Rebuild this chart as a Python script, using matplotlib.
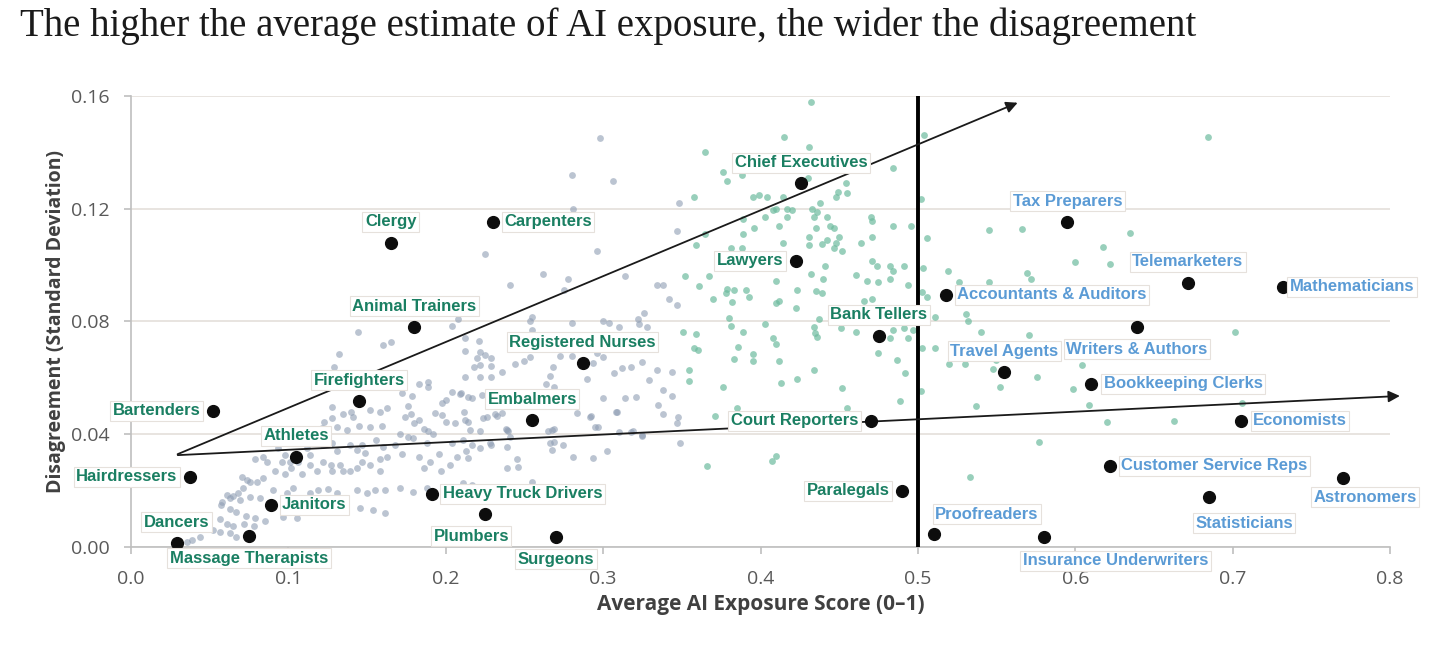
import matplotlib
matplotlib.use("Agg")
import matplotlib.pyplot as plt
from matplotlib.ticker import FormatStrFormatter

# background occupations, low exposure (grey-blue)
gray_pts = [
    (0.298, 0.145), (0.28, 0.132), (0.306, 0.130), (0.281, 0.120), (0.348, 0.122), (0.347, 0.112),
    (0.225, 0.104), (0.296, 0.105), (0.262, 0.097), (0.278, 0.095), (0.241, 0.093), (0.314, 0.096),
    (0.334, 0.093), (0.338, 0.093), (0.275, 0.091), (0.342, 0.088), (0.347, 0.086),
    (0.208, 0.081), (0.204, 0.0785), (0.165, 0.0728), (0.212, 0.074), (0.221, 0.073), (0.255, 0.0816),
    (0.2535, 0.080), (0.28, 0.0795), (0.30, 0.080), (0.304, 0.0795), (0.31, 0.078), (0.322, 0.081),
    (0.326, 0.083), (0.323, 0.079), (0.328, 0.078), (0.255, 0.077),
    (0.212, 0.0695), (0.22, 0.067), (0.222, 0.069), (0.225, 0.068), (0.229, 0.067), (0.218, 0.064),
    (0.222, 0.0646), (0.229, 0.0642), (0.212, 0.0603), (0.222, 0.0603), (0.229, 0.0603), (0.236, 0.062),
    (0.244, 0.065), (0.25, 0.066), (0.2535, 0.0674), (0.2725, 0.0678), (0.28, 0.0678), (0.268, 0.0639),
    (0.266, 0.0607), (0.264, 0.0578), (0.269, 0.0568), (0.296, 0.0688), (0.30, 0.0674), (0.2935, 0.0653),
    (0.290, 0.0596), (0.307, 0.0617), (0.312, 0.0635), (0.318, 0.0639), (0.325, 0.0656), (0.334, 0.0628),
    (0.329, 0.0593), (0.344, 0.062),
    (0.183, 0.0578), (0.189, 0.0585), (0.189, 0.0568), (0.1785, 0.0536), (0.172, 0.0546), (0.204, 0.055),
    (0.209, 0.0543), (0.200, 0.0522), (0.1976, 0.051), (0.214, 0.0532), (0.223, 0.054), (0.229, 0.051),
    (0.234, 0.0504),
    (0.176, 0.050), (0.174, 0.046), (0.178, 0.047), (0.183, 0.045), (0.180, 0.044), (0.186, 0.042),
    (0.189, 0.041), (0.192, 0.040), (0.193, 0.0476), (0.1976, 0.0468), (0.200, 0.0444), (0.206, 0.044),
    (0.212, 0.045), (0.2154, 0.0415), (0.2236, 0.0458), (0.2325, 0.0465), (0.239, 0.0415), (0.264, 0.051),
    (0.268, 0.051), (0.277, 0.053), (0.282, 0.052), (0.2834, 0.0476), (0.292, 0.0465), (0.300, 0.053),
    (0.309, 0.048), (0.314, 0.0529), (0.321, 0.0532), (0.2675, 0.0415), (0.2687, 0.0373), (0.2967, 0.0426),
    (0.310, 0.0408), (0.318, 0.0408), (0.325, 0.0394), (0.171, 0.040), (0.179, 0.0387), (0.188, 0.037),
    (0.204, 0.037), (0.211, 0.038), (0.217, 0.036), (0.228, 0.037),
    (0.144, 0.0763), (0.132, 0.0685), (0.129, 0.064), (0.160, 0.0717), (0.1277, 0.0497), (0.1226, 0.0444),
    (0.1213, 0.0422), (0.1277, 0.0458), (0.135, 0.047), (0.140, 0.048), (0.141, 0.046), (0.145, 0.043),
    (0.152, 0.0486), (0.158, 0.048), (0.1626, 0.0493), (0.131, 0.0426), (0.137, 0.0415), (0.152, 0.0426),
    (0.1595, 0.043), (0.122, 0.036), (0.128, 0.037), (0.131, 0.034), (0.139, 0.036), (0.147, 0.036),
    (0.156, 0.038), (0.1086, 0.037), (0.1118, 0.035), (0.1137, 0.0327), (0.0934, 0.035), (0.098, 0.0327),
    (0.0788, 0.031), (0.0839, 0.032), (0.0864, 0.030), (0.096, 0.030), (0.101, 0.030), (0.106, 0.030),
    (0.0915, 0.027), (0.098, 0.026), (0.102, 0.028), (0.1086, 0.026), (0.114, 0.029), (0.118, 0.027),
    (0.122, 0.030), (0.127, 0.029), (0.128, 0.027), (0.133, 0.029), (0.135, 0.027), (0.139, 0.027),
    (0.1436, 0.028), (0.147, 0.030), (0.152, 0.029), (0.158, 0.031), (0.158, 0.027), (0.1626, 0.032),
    (0.1436, 0.0344), (0.1487, 0.0333), (0.160, 0.0355), (0.0705, 0.0248), (0.0756, 0.023), (0.080, 0.023),
    (0.0839, 0.0245), (0.061, 0.0185), (0.068, 0.019), (0.0756, 0.0177), (0.082, 0.0174), (0.090, 0.0202),
    (0.099, 0.019), (0.103, 0.021), (0.114, 0.019), (0.119, 0.020), (0.125, 0.0205), (0.131, 0.019),
    (0.1436, 0.020), (0.150, 0.019), (0.155, 0.020), (0.1614, 0.020), (0.057, 0.015), (0.063, 0.0135),
    (0.067, 0.0125), (0.073, 0.011), (0.079, 0.0103), (0.1455, 0.0138), (0.1537, 0.013), (0.1614, 0.012),
    (0.058, 0.016), (0.063, 0.0174), (0.069, 0.0167), (0.0565, 0.010), (0.061, 0.008), (0.065, 0.0075),
    (0.072, 0.008), (0.078, 0.0075), (0.085, 0.009), (0.052, 0.006), (0.0565, 0.0053), (0.063, 0.005),
    (0.067, 0.0035), (0.0438, 0.0035), (0.0388, 0.0025), (0.0356, 0.0018), (0.0737, 0.0238), (0.071, 0.021),
    (0.065, 0.018), (0.0966, 0.0106), (0.1055, 0.0103), (0.171, 0.021), (0.179, 0.0195), (0.188, 0.021),
    (0.210, 0.0546), (0.217, 0.0529), (0.274, 0.054), (0.280, 0.0546), (0.335, 0.0504), (0.338, 0.0472),
    (0.338, 0.0557), (0.344, 0.0536), (0.2116, 0.048), (0.226, 0.046), (0.231, 0.047), (0.236, 0.0475),
    (0.214, 0.0444), (0.222, 0.0412), (0.238, 0.042), (0.2395, 0.041), (0.265, 0.0412), (0.269, 0.042),
    (0.2916, 0.046), (0.295, 0.0426), (0.308, 0.048), (0.319, 0.041), (0.325, 0.0397), (0.3475, 0.046),
    (0.347, 0.044), (0.349, 0.037), (0.214, 0.0315), (0.213, 0.034), (0.222, 0.035), (0.229, 0.036),
    (0.239, 0.0355), (0.241, 0.039), (0.2675, 0.0344), (0.2745, 0.036), (0.266, 0.037), (0.281, 0.032),
    (0.2935, 0.0316), (0.3024, 0.034), (0.245, 0.031), (0.246, 0.0284), (0.239, 0.028), (0.255, 0.023),
    (0.2167, 0.022), (0.211, 0.0227),
    (0.183, 0.032), (0.19, 0.030), (0.196, 0.033), (0.203, 0.029), (0.207, 0.032), (0.197, 0.027),
    (0.186, 0.028), (0.168, 0.036), (0.172, 0.033), (0.176, 0.039),
]

# background occupations, higher exposure (green)
green_pts = [
    (0.432, 0.158), (0.415, 0.1455), (0.431, 0.142), (0.365, 0.140), (0.504, 0.146), (0.684, 0.1455),
    (0.376, 0.133), (0.388, 0.132), (0.379, 0.130), (0.430, 0.131), (0.484, 0.1345), (0.454, 0.129),
    (0.358, 0.124), (0.395, 0.124), (0.399, 0.125), (0.404, 0.124), (0.414, 0.124), (0.449, 0.126),
    (0.448, 0.124), (0.455, 0.1255), (0.502, 0.1235), (0.438, 0.122), (0.410, 0.120), (0.417, 0.120),
    (0.433, 0.120), (0.436, 0.119), (0.408, 0.1195), (0.420, 0.1195), (0.403, 0.117), (0.417, 0.117),
    (0.434, 0.117), (0.442, 0.117), (0.470, 0.117), (0.471, 0.1155), (0.389, 0.1165), (0.365, 0.111),
    (0.412, 0.114), (0.435, 0.113), (0.444, 0.114), (0.447, 0.113), (0.484, 0.114), (0.4955, 0.114),
    (0.389, 0.111), (0.396, 0.113), (0.431, 0.110), (0.442, 0.109), (0.450, 0.110), (0.448, 0.108),
    (0.471, 0.110), (0.506, 0.1095), (0.545, 0.1125), (0.566, 0.1128), (0.635, 0.1114), (0.359, 0.107),
    (0.381, 0.106), (0.388, 0.106), (0.414, 0.108), (0.431, 0.107), (0.439, 0.1075), (0.447, 0.106),
    (0.452, 0.105), (0.464, 0.108), (0.6175, 0.1065), (0.471, 0.1015), (0.474, 0.0995), (0.482, 0.0995),
    (0.484, 0.098), (0.491, 0.0995), (0.503, 0.099), (0.441, 0.0997), (0.600, 0.101), (0.622, 0.1004),
    (0.519, 0.098), (0.569, 0.0972), (0.572, 0.095), (0.352, 0.096), (0.367, 0.096), (0.361, 0.0926),
    (0.410, 0.0944), (0.432, 0.097), (0.440, 0.095), (0.4605, 0.0965), (0.4675, 0.0944), (0.4745, 0.094),
    (0.482, 0.095), (0.494, 0.093), (0.526, 0.094), (0.545, 0.094), (0.379, 0.0915), (0.383, 0.091),
    (0.391, 0.091), (0.423, 0.091), (0.435, 0.0908), (0.439, 0.090), (0.370, 0.088), (0.378, 0.090),
    (0.382, 0.087), (0.393, 0.0887), (0.410, 0.0866), (0.412, 0.0873), (0.4225, 0.0848), (0.466, 0.0873),
    (0.471, 0.088), (0.5025, 0.0905), (0.506, 0.0887),
    (0.380, 0.0812), (0.381, 0.0785), (0.403, 0.0791), (0.351, 0.0763), (0.359, 0.0755), (0.389, 0.0763),
    (0.408, 0.074), (0.410, 0.072), (0.434, 0.078), (0.4345, 0.076), (0.436, 0.0745), (0.437, 0.081),
    (0.451, 0.0777), (0.4605, 0.0763), (0.482, 0.074), (0.484, 0.077), (0.491, 0.0775), (0.494, 0.074),
    (0.497, 0.077), (0.511, 0.0816), (0.5305, 0.0827), (0.532, 0.080), (0.540, 0.0763), (0.5705, 0.0752),
    (0.7014, 0.0763), (0.511, 0.0706), (0.5025, 0.0706), (0.358, 0.0706), (0.360, 0.070), (0.386, 0.071),
    (0.395, 0.0685), (0.395, 0.066), (0.383, 0.0667), (0.412, 0.066), (0.4745, 0.0688), (0.487, 0.0664),
    (0.520, 0.065), (0.530, 0.065), (0.548, 0.063), (0.5495, 0.0664), (0.604, 0.0646), (0.5756, 0.0603),
    (0.3545, 0.0628), (0.3545, 0.0589), (0.434, 0.0628), (0.423, 0.0596), (0.413, 0.0582), (0.376, 0.0568),
    (0.452, 0.0564), (0.492, 0.0617), (0.4886, 0.0518), (0.502, 0.0554), (0.552, 0.0568), (0.5985, 0.056),
    (0.537, 0.050), (0.609, 0.0504), (0.706, 0.051), (0.620, 0.0444), (0.6626, 0.0447), (0.577, 0.0373),
    (0.533, 0.0248), (0.385, 0.0493), (0.371, 0.0465), (0.455, 0.0493), (0.410, 0.0323), (0.407, 0.0305),
    (0.366, 0.0287),
]

# highlighted occupations
names = [
    "Bartenders", "Hairdressers", "Dancers", "Massage Therapists", "Janitors", "Athletes",
    "Firefighters", "Clergy", "Animal Trainers", "Carpenters", "Registered Nurses", "Embalmers",
    "Heavy Truck Drivers", "Plumbers", "Surgeons", "Chief Executives", "Lawyers", "Bank Tellers",
    "Court Reporters", "Paralegals", "Proofreaders", "Insurance Underwriters", "Tax Preparers",
    "Accountants & Auditors", "Travel Agents", "Writers & Authors", "Telemarketers", "Mathematicians",
    "Bookkeeping Clerks", "Economists", "Customer Service Reps", "Statisticians", "Astronomers",
]
exposure = [
    0.052, 0.0375, 0.029, 0.075, 0.089, 0.105,
    0.145, 0.165, 0.180, 0.230, 0.287, 0.255,
    0.191, 0.225, 0.270, 0.4257, 0.4225, 0.475,
    0.470, 0.490, 0.510, 0.580, 0.595,
    0.518, 0.555, 0.639, 0.6715, 0.732,
    0.610, 0.705, 0.622, 0.685, 0.770,
]
disagreement = [
    0.0483, 0.0248, 0.0014, 0.0039, 0.0149, 0.0320,
    0.0518, 0.1080, 0.0780, 0.1153, 0.0653, 0.0450,
    0.0188, 0.0117, 0.0035, 0.1290, 0.1015, 0.0749,
    0.0447, 0.0199, 0.0046, 0.0035, 0.1153,
    0.0894, 0.0620, 0.0780, 0.0937, 0.0923,
    0.0578, 0.0447, 0.0287, 0.0177, 0.0245,
]

# label placement: (dx, dy) in points and horizontal alignment
label_offsets = {
    "Bartenders": (-9, 0, "right"), "Hairdressers": (-9, 0, "right"), "Dancers": (0, 15, "center"),
    "Massage Therapists": (0, -16, "center"), "Janitors": (8, 0, "left"), "Athletes": (0, 15, "center"),
    "Firefighters": (0, 15, "center"), "Clergy": (0, 15, "center"), "Animal Trainers": (0, 15, "center"),
    "Carpenters": (8, 0, "left"), "Registered Nurses": (0, 15, "center"), "Embalmers": (0, 15, "center"),
    "Heavy Truck Drivers": (8, 0, "left"), "Plumbers": (-10, -16, "center"), "Surgeons": (0, -16, "center"),
    "Chief Executives": (0, 15, "center"), "Lawyers": (-9, 0, "right"), "Bank Tellers": (0, 15, "center"),
    "Court Reporters": (-9, 0, "right"), "Paralegals": (-9, 0, "right"), "Proofreaders": (1, 14, "left"),
    "Insurance Underwriters": (-15, -17, "left"), "Tax Preparers": (0, 15, "center"),
    "Accountants & Auditors": (8, 0, "left"), "Travel Agents": (0, 15, "center"),
    "Writers & Authors": (0, -16, "center"), "Telemarketers": (0, 15, "center"),
    "Mathematicians": (5, 0, "left"), "Bookkeeping Clerks": (9, 0, "left"), "Economists": (9, 0, "left"),
    "Customer Service Reps": (8, 0, "left"), "Statisticians": (-10, -19, "left"),
    "Astronomers": (16, -14, "center"),
}

GREEN_TXT = "#1a7f62"
BLUE_TXT = "#5b9bd5"
GRID = "#e4dfda"
AXIS_TXT = "#404040"

fig = plt.figure(figsize=(14.39, 6.51), dpi=100)
ax = fig.add_axes([0.091, 0.16, 0.875, 0.6925])

gx, gy = zip(*gray_pts)
ax.scatter(gx, gy, s=24, color="#8e9db3", alpha=0.6, linewidths=0, zorder=2)
hx, hy = zip(*green_pts)
ax.scatter(hx, hy, s=24, color="#6dbb9e", alpha=0.7, linewidths=0, zorder=2)

ax.axvline(0.5, color="black", lw=2.8, zorder=3)

# the two trend arrows
start = (0.028, 0.0325)
ax.annotate("", xy=(0.565, 0.158), xytext=start, annotation_clip=False,
            arrowprops=dict(arrowstyle="-|>", color="#1a1a1a", lw=1.3, mutation_scale=17), zorder=4)
ax.annotate("", xy=(0.808, 0.0536), xytext=start, annotation_clip=False,
            arrowprops=dict(arrowstyle="-|>", color="#1a1a1a", lw=1.3, mutation_scale=17), zorder=4)

ax.scatter(exposure, disagreement, s=72, color="#0d0d0d", zorder=6)

for name, x, y in zip(names, exposure, disagreement):
    dx, dy, ha = label_offsets[name]
    col = GREEN_TXT if x < 0.5 else BLUE_TXT
    ax.annotate(name, (x, y), xytext=(dx, dy), textcoords="offset points",
                ha=ha, va="center", fontsize=12, fontweight="bold", color=col,
                family="Liberation Sans", annotation_clip=False, zorder=7,
                bbox=dict(boxstyle="square,pad=0.15", fc="white", ec="#e6e1dc", lw=0.8))

ax.set_xlim(0, 0.8)
ax.set_ylim(0, 0.16)
ax.set_xticks([0.0, 0.1, 0.2, 0.3, 0.4, 0.5, 0.6, 0.7, 0.8])
ax.set_yticks([0.0, 0.04, 0.08, 0.12, 0.16])
ax.xaxis.set_major_formatter(FormatStrFormatter("%.1f"))
ax.yaxis.set_major_formatter(FormatStrFormatter("%.2f"))
ax.grid(axis="y", color=GRID, lw=1.2, zorder=0)
ax.set_axisbelow(True)

for s in ["top", "right"]:
    ax.spines[s].set_visible(False)
for s in ["left", "bottom"]:
    ax.spines[s].set_color("#bfbfbf")
    ax.spines[s].set_linewidth(1.2)

ax.tick_params(axis="both", colors="#bfbfbf", labelcolor="#595959", labelsize=14,
               length=5, width=1.2)
ax.tick_params(axis="x", pad=12)
ax.tick_params(axis="y", pad=10)
for lab in ax.get_xticklabels() + ax.get_yticklabels():
    lab.set_family("Open Sans")

ax.set_xlabel("Average AI Exposure Score (0\u20131)", fontsize=15, fontweight="bold",
              color=AXIS_TXT, family="Open Sans", labelpad=4)
ax.set_ylabel("Disagreement (Standard Deviation)", fontsize=14, fontweight="bold",
              color=AXIS_TXT, family="Open Sans", labelpad=4)

fig.text(0.014, 0.945, "The higher the average estimate of AI exposure, the wider the disagreement",
         fontsize=28, family="Liberation Serif", color="#1a1a1a", va="baseline")

fig.savefig("out.png", dpi=100)
